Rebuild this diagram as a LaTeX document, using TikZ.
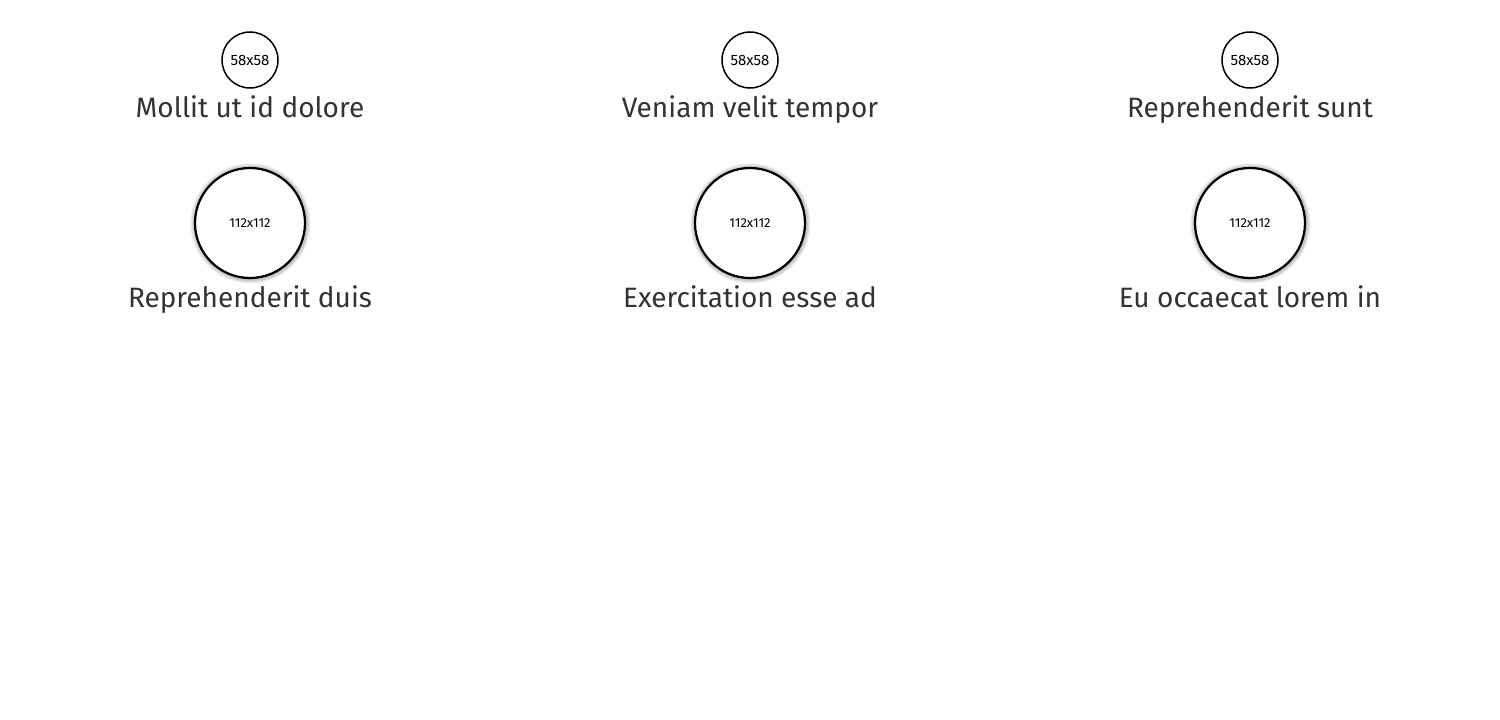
\documentclass[tikz,border=0pt]{standalone}
\usepackage{fontspec}
\setmainfont{Fira Sans}
\newfontfamily\handfont{Fira Sans}
\usepackage{xcolor}
\usepackage{tikz}
\usetikzlibrary{positioning, shadows}
\definecolor{inkgray}{RGB}{51,51,51}

\begin{document}
\begin{tikzpicture}[
    x=1pt, y=-1pt,
    small/.style={circle, draw, line width=1.5pt, fill=white, minimum size=56pt, inner sep=0pt, font=\fontsize{15}{17}\selectfont},
    large/.style={circle, draw, line width=2.2pt, fill=white, minimum size=110pt, inner sep=0pt, font=\fontsize{13}{15}\selectfont,
        circular drop shadow={shadow xshift=0pt, shadow yshift=0pt, shadow scale=1.1, opacity=1}},
    caption/.style={font=\handfont\fontsize{28}{31}\selectfont, text=inkgray, inner sep=0pt}
]
\useasboundingbox (0,0) rectangle (1500,720);

% Column 1
\node[small] (s1) at (250,60) {58x58};
\node[caption, below=7pt of s1] (t1) {Mollit ut id dolore};
\node[large] (l1) at (250,223) {112x112};
\node[caption, below=6pt of l1] (b1) {Reprehenderit duis};

% Column 2
\node[small] (s2) at (750,60) {58x58};
\node[caption, below=7pt of s2] (t2) {Veniam velit tempor};
\node[large] (l2) at (750,223) {112x112};
\node[caption, below=6pt of l2] (b2) {Exercitation esse ad};

% Column 3
\node[small] (s3) at (1250,60) {58x58};
\node[caption, below=7pt of s3] (t3) {Reprehenderit sunt};
\node[large] (l3) at (1250,223) {112x112};
\node[caption, below=6pt of l3] (b3) {Eu occaecat lorem in};

\end{tikzpicture}
\end{document}
